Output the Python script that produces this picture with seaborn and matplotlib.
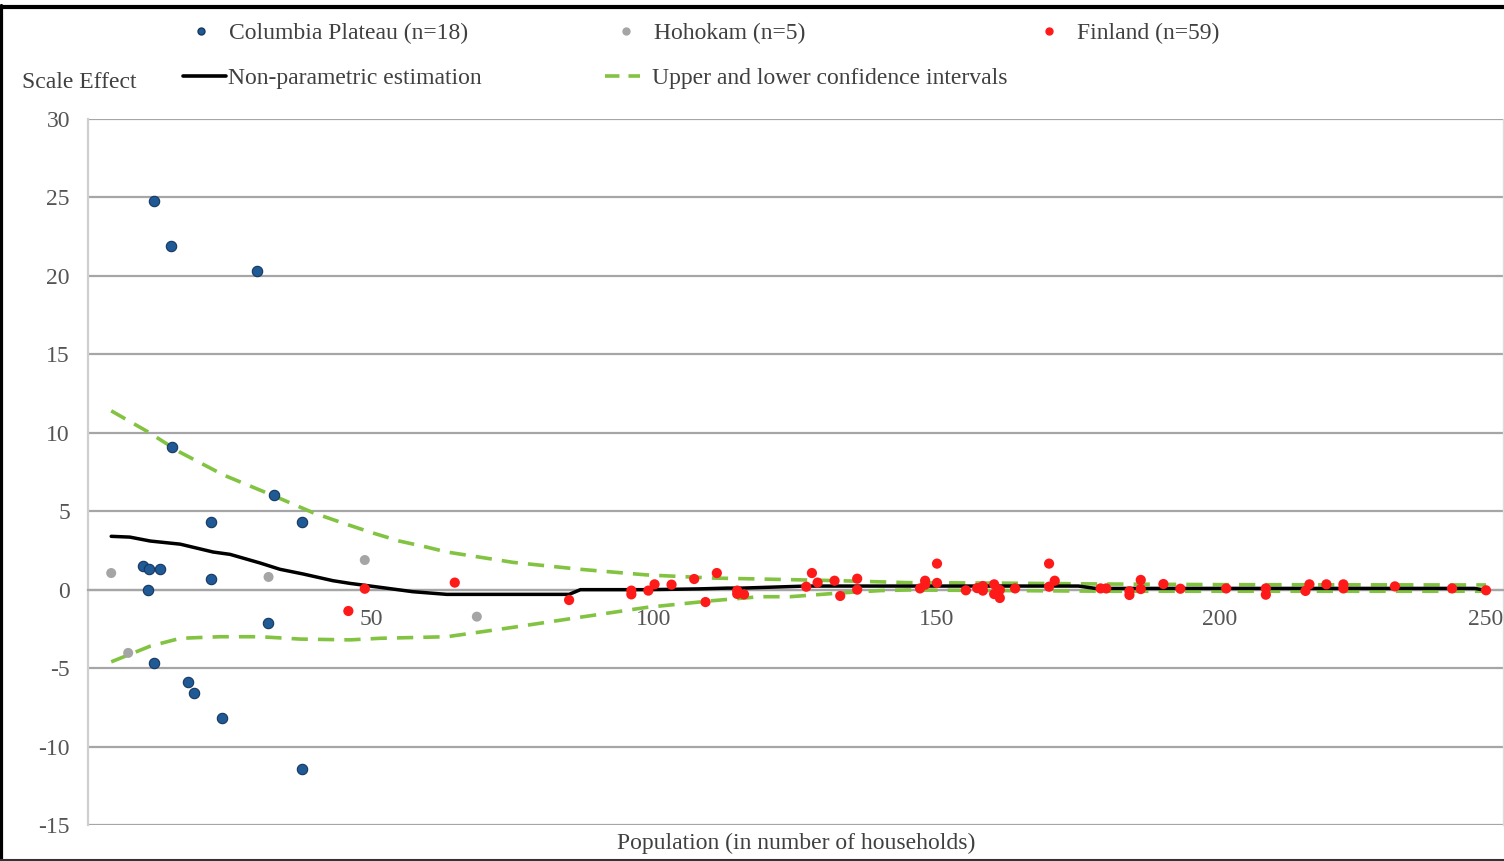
import numpy as np
import pandas as pd
import matplotlib
matplotlib.use("Agg")
import matplotlib.pyplot as plt
from matplotlib.lines import Line2D
import seaborn as sns

# ---------------- data ----------------
columbia_x = [11.7, 14.7, 29.9, 14.8, 32.9, 21.7, 37.8, 9.7, 10.8, 12.7, 21.7, 10.6, 31.8, 11.7, 17.7, 18.7, 23.7, 37.8]
columbia_y = [24.8, 21.9, 20.3, 9.1, 6.05, 4.3, 4.3, 1.5, 1.3, 1.3, 0.7, 0.0, -2.1, -4.7, -5.9, -6.6, -8.2, -11.4]

hohokam_x = [4.1, 7.1, 31.9, 48.9, 68.7]
hohokam_y = [1.06, -4.03, 0.81, 1.89, -1.72]

finland_x = [48.9, 46.0, 64.8, 85.0, 96.0, 96.0, 99.0, 100.1, 103.1, 107.1, 109.1, 111.1, 114.7, 114.7, 115.9,
             126.9, 127.9, 128.9, 131.9, 132.9, 135.9, 135.9, 147.0, 147.9, 147.9, 150.0, 150.0, 155.1, 157.1,
             158.1, 158.1, 160.1, 160.1, 161.1, 161.1, 163.8, 169.8, 169.8, 170.8, 178.9, 179.9,
             184.0, 184.0, 186.0, 186.0, 190.0, 193.0, 201.1, 208.1, 208.1, 215.1, 215.8, 218.8, 221.8, 221.8,
             230.9, 241.0, 247.0]
finland_y = [0.06, -1.36, 0.45, -0.66, -0.06, -0.3, -0.06, 0.34, 0.32, 0.68, -0.79, 1.06, -0.06, -0.27, -0.3,
             0.19, 1.06, 0.45, 0.57, -0.4, 0.7, 0.0, 0.08, 0.57, 0.32, 1.66, 0.43, -0.04, 0.1,
             0.23, -0.06, 0.34, -0.28, -0.02, -0.53, 0.08, 1.66, 0.19, 0.57, 0.08, 0.08,
             -0.1, -0.34, 0.62, 0.04, 0.36, 0.06, 0.08, 0.08, -0.32, -0.08, 0.34, 0.34, 0.34, 0.08,
             0.21, 0.08, -0.04]

est_x = [4.1, 7.4, 11.0, 16.3, 22.1, 25.1, 30.4, 33.9, 38.0, 43.3, 46.3, 51.6, 57.4, 63.4, 70.5, 85.0, 87.0,
         99.0, 108.0, 113.0, 115.5, 127.0, 175.0, 178.0, 245.0, 247.0]
est_y = [3.4, 3.35, 3.1, 2.9, 2.4, 2.25, 1.7, 1.3, 1.0, 0.57, 0.4, 0.15, -0.13, -0.3, -0.3, -0.3, 0.0,
         0.0, 0.05, 0.1, 0.1, 0.23, 0.23, 0.08, 0.08, -0.04]

upper_x = [4.1, 10.4, 16.3, 24.0, 32.7, 39.8, 45.0, 50.0, 55.0, 60.0, 63.4, 75.1, 86.9, 98.7, 110.4, 118.7, 132.9,
           144.7, 160.0, 180.0, 200.0, 247.0]
upper_y = [11.4, 10.1, 8.75, 7.3, 6.0, 4.9, 4.25, 3.65, 3.1, 2.7, 2.4, 1.74, 1.3, 0.94, 0.74, 0.68, 0.57,
           0.45, 0.42, 0.36, 0.32, 0.3]

lower_x = [4.1, 11.0, 16.3, 23.3, 30.4, 37.5, 46.3, 51.6, 63.4, 75.1, 86.9, 98.7, 110.4, 118.7, 124.0, 132.9,
           140.0, 145.0, 180.0, 247.0]
lower_y = [-4.6, -3.6, -3.1, -3.0, -3.0, -3.15, -3.2, -3.1, -3.0, -2.4, -1.76, -1.13, -0.7, -0.45, -0.45, -0.21,
           -0.06, -0.02, -0.1, -0.1]

x_ticks = [50, 100, 150, 200, 250]
y_ticks = [-15, -10, -5, 0, 5, 10, 15, 20, 25, 30]

legend_labels = ["Columbia Plateau (n=18)", "Hohokam (n=5)", "Finland (n=59)",
                 "Non-parametric estimation", "Upper and lower confidence intervals"]

# ---------------- style ----------------
sns.set_theme(style="white")
plt.rcParams["font.family"] = ["Liberation Serif", "DejaVu Serif"]

BLUE = "#1f5a96"
GRAY = "#a5a5a5"
RED = "#ff1a1a"
GREEN = "#82c341"
TXT = "#404040"
TICK = "#555555"
GRID = "#a6a6a6"
FS = 17

W, H = 1504, 861
fig = plt.figure(figsize=(W / 100, H / 100), dpi=100)
ax = fig.add_axes([88 / W, 36 / H, 1415 / W, 706 / H])

# lines
sns.lineplot(x=upper_x, y=upper_y, ax=ax, color=GREEN, lw=2.6, linestyle=(0, (4.5, 2.8)), sort=False, estimator=None, zorder=3)
sns.lineplot(x=lower_x, y=lower_y, ax=ax, color=GREEN, lw=2.6, linestyle=(0, (4.5, 2.8)), sort=False, estimator=None, zorder=3)
sns.lineplot(x=est_x, y=est_y, ax=ax, color="black", lw=2.5, sort=False, estimator=None, zorder=4)

# points
sns.scatterplot(x=columbia_x, y=columbia_y, ax=ax, color=BLUE, s=56, edgecolor="#17375e", linewidth=0.8, zorder=5)
sns.scatterplot(x=hohokam_x, y=hohokam_y, ax=ax, color=GRAY, s=52, edgecolor="none", zorder=5)
sns.scatterplot(x=finland_x, y=finland_y, ax=ax, color=RED, s=54, edgecolor="none", zorder=6)

ax.set_xlim(0, 250)
ax.set_ylim(-15, 30)
ax.set_yticks(y_ticks)
ax.set_xticks(x_ticks)
ax.set_xticklabels([str(v) for v in x_ticks])
ax.set_yticklabels([str(v) for v in y_ticks])
ax.yaxis.grid(True, color=GRID, lw=1.6)
ax.xaxis.grid(False)
ax.set_axisbelow(True)

ax.spines["top"].set_visible(False)
ax.spines["right"].set_color("#dcdcdc")
ax.spines["right"].set_linewidth(1.0)
ax.spines["left"].set_color("#cfcfcf")
ax.spines["left"].set_linewidth(1.6)
ax.spines["bottom"].set_position(("data", 0))
ax.spines["bottom"].set_color(GRID)
ax.spines["bottom"].set_linewidth(1.6)
ax.tick_params(axis="both", length=0, labelsize=FS, colors=TICK)
ax.tick_params(axis="y", pad=13)
ax.tick_params(axis="x", pad=14)
ax.set_xlabel("")
ax.set_ylabel("")

# axis titles
fig.text(22 / W, 1 - 82 / H, "Scale Effect", ha="left", va="center", fontsize=FS, color=TXT)
fig.text(796 / W, 18 / H, "Population (in number of households)", ha="center", va="center", fontsize=FS, color=TXT)

# legend (manually placed single-entry legends)
handles = [
    Line2D([], [], marker="o", ls="", color=BLUE, markeredgecolor="#17375e", markersize=5),
    Line2D([], [], marker="o", ls="", color=GRAY, markeredgecolor=GRAY, markersize=5),
    Line2D([], [], marker="o", ls="", color=RED, markeredgecolor=RED, markersize=5),
    Line2D([], [], color="black", lw=2.6),
    Line2D([], [], color=GREEN, lw=2.6, linestyle=(0, (4, 2.5))),
]
places = [(179, 33, 1.85, 0.25), (604, 33, 1.85, 0.25), (1027, 33, 1.85, 0.25),
          (183, 78, 1.8, 0.1), (605, 78, 1.5, 0.5)]
for h, lab, (px, py, hl, tp) in zip(handles, legend_labels, places):
    fig.legend([h], [lab], loc="center left", bbox_to_anchor=(px / W, 1 - py / H),
               frameon=False, borderpad=0, borderaxespad=0, handlelength=hl, handletextpad=tp,
               fontsize=FS, labelcolor=TXT)

# outer frame lines (top thick, left, bottom; none on the right)
fig.add_artist(Line2D([0, 1], [1 - 7 / H, 1 - 7 / H], transform=fig.transFigure, color="black", lw=3.0, zorder=10))
fig.add_artist(Line2D([1.5 / W, 1.5 / W], [0, 1 - 5 / H], transform=fig.transFigure, color="black", lw=2.3, zorder=10))
fig.add_artist(Line2D([0, 1], [1 / H, 1 / H], transform=fig.transFigure, color="#333333", lw=1.5, zorder=10))

fig.canvas.draw()
lbls = ax.get_xticklabels()
lbls[-1].set_horizontalalignment("right")

fig.savefig("out.png", dpi=100, facecolor="white")
